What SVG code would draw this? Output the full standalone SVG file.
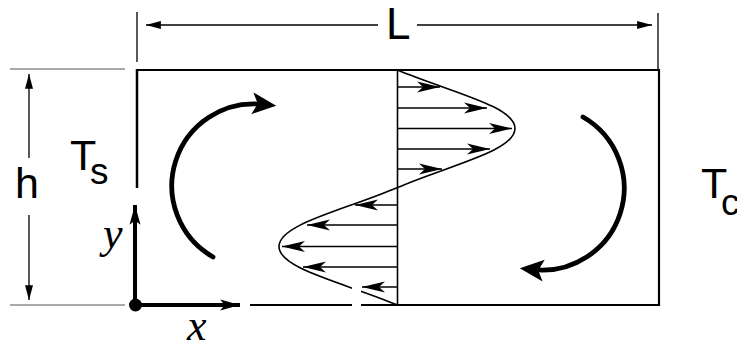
<svg xmlns="http://www.w3.org/2000/svg" width="737" height="343" viewBox="0 0 737 343">
<style>
.ln{stroke:#000;fill:none}
.thin{stroke:#000;stroke-width:1.3;fill:none}
.grey{stroke:#555;stroke-width:1;fill:none}
.lbl{font-family:"Liberation Sans",Arial,sans-serif;fill:#000}
.ital{font-family:"Liberation Serif","Times New Roman",serif;font-style:italic;fill:#000}
.prof{stroke:#000;stroke-width:1.6;fill:none}
.circ{stroke:#000;stroke-width:4.8;fill:none;stroke-linecap:round}
</style>
<defs>
<marker id="dimA" markerUnits="userSpaceOnUse" markerWidth="16" markerHeight="10" viewBox="-13 -4 14 8" refX="0" refY="0" orient="auto"><path d="M0,0 L-13,-3.5 L-13,3.5 z" fill="#000"/></marker>
<marker id="axA" markerUnits="userSpaceOnUse" markerWidth="22" markerHeight="14" viewBox="-19 -6 20 12" refX="0" refY="0" orient="auto"><path d="M0,0 L-18,-5 L-14,0 L-18,5 z" fill="#000"/></marker>
<marker id="prA" markerUnits="userSpaceOnUse" markerWidth="26" markerHeight="14" viewBox="-24 -7 25 14" refX="0" refY="0" orient="auto"><path d="M0,0 L-23,-5.5 L-17,0 L-23,5.5 z" fill="#000"/></marker>
<marker id="cirA" markerUnits="userSpaceOnUse" markerWidth="30" markerHeight="24" viewBox="-12 -11 26 22" refX="0" refY="0" orient="auto"><path d="M13,0 L-9,-10 L-4,0 L-9,10 z" fill="#000"/></marker>
</defs>

<g id="dimension-L">
<line class="thin" x1="137" y1="12" x2="137" y2="62"/>
<line class="thin" x1="658" y1="13" x2="658" y2="70"/>
<line class="thin" x1="378" y1="25" x2="146" y2="25" marker-end="url(#dimA)"/>
<line class="thin" x1="417" y1="25" x2="652" y2="25" marker-end="url(#dimA)"/>
<text class="lbl" x="386" y="39" font-size="44">L</text>
</g>

<g id="dimension-h">
<line class="grey" x1="10" y1="69" x2="125" y2="69"/>
<line class="grey" x1="10" y1="305" x2="125" y2="305"/>
<line class="thin" x1="29" y1="158" x2="29" y2="74" marker-end="url(#dimA)"/>
<line class="thin" x1="29" y1="215" x2="29" y2="300" marker-end="url(#dimA)"/>
<text class="lbl" x="15" y="198" font-size="43">h</text>
</g>

<g id="box">
<line class="ln" stroke-width="2.2" x1="136" y1="70" x2="660" y2="70"/>
<line class="ln" stroke-width="2.2" x1="659" y1="69" x2="659" y2="306"/>
<line class="ln" stroke-width="2.5" x1="137" y1="69" x2="137" y2="188"/>
<line class="ln" stroke-width="2.2" x1="250" y1="305" x2="660" y2="305"/>
</g>

<g id="label-Ts">
<text class="lbl" x="70" y="170" font-size="43">T</text>
<text class="lbl" x="90" y="184" font-size="37">s</text>
</g>
<g id="label-Tc">
<text class="lbl" x="701" y="198" font-size="43">T</text>
<text class="lbl" x="721" y="215" font-size="37">c</text>
</g>

<g id="axes">
<line class="ln" stroke-width="4" x1="135" y1="305" x2="135" y2="205" marker-end="url(#axA)"/>
<line class="ln" stroke-width="4" x1="135" y1="305" x2="240" y2="305" marker-end="url(#axA)"/>
<circle cx="135.5" cy="305" r="6.5" fill="#000"/>
<text class="ital" x="103" y="248" font-size="44">y</text>
<text class="ital" x="187" y="340" font-size="44">x</text>
</g>

<g id="profile">
<line class="prof" x1="397.5" y1="70" x2="397.5" y2="305"/>
<path class="prof" d="M397.5,70 C450,92 515,106 515,128.5 C515,151 450,165 397.5,187.5 C345,210 279,224 279,246.5 C279,269 345,283 397.5,305"/>
<line class="prof" x1="397.5" y1="87" x2="440" y2="87" marker-end="url(#prA)"/>
<line class="prof" x1="397.5" y1="108" x2="487" y2="108" marker-end="url(#prA)"/>
<line class="prof" x1="397.5" y1="128.5" x2="512" y2="128.5" marker-end="url(#prA)"/>
<line class="prof" x1="397.5" y1="149" x2="490" y2="149" marker-end="url(#prA)"/>
<line class="prof" x1="397.5" y1="169" x2="442" y2="169" marker-end="url(#prA)"/>
<line class="prof" x1="397.5" y1="205" x2="355" y2="205" marker-end="url(#prA)"/>
<line class="prof" x1="397.5" y1="225" x2="307" y2="225" marker-end="url(#prA)"/>
<line class="prof" x1="397.5" y1="246.5" x2="282" y2="246.5" marker-end="url(#prA)"/>
<line class="prof" x1="397.5" y1="267" x2="303" y2="267" marker-end="url(#prA)"/>
<line class="prof" x1="397.5" y1="287" x2="362" y2="287" marker-end="url(#prA)"/>
<rect x="352" y="284" width="9" height="24" fill="#fff"/>
</g>

<g id="circulation">
<path id="circ-left" class="circ" d="M213,257 A82,82 0 0 1 262.1,104.3" marker-end="url(#cirA)"/>
<path id="circ-right" class="circ" d="M583,117 A82,82 0 0 1 533.9,269.7" marker-end="url(#cirA)"/>
</g>
</svg>
